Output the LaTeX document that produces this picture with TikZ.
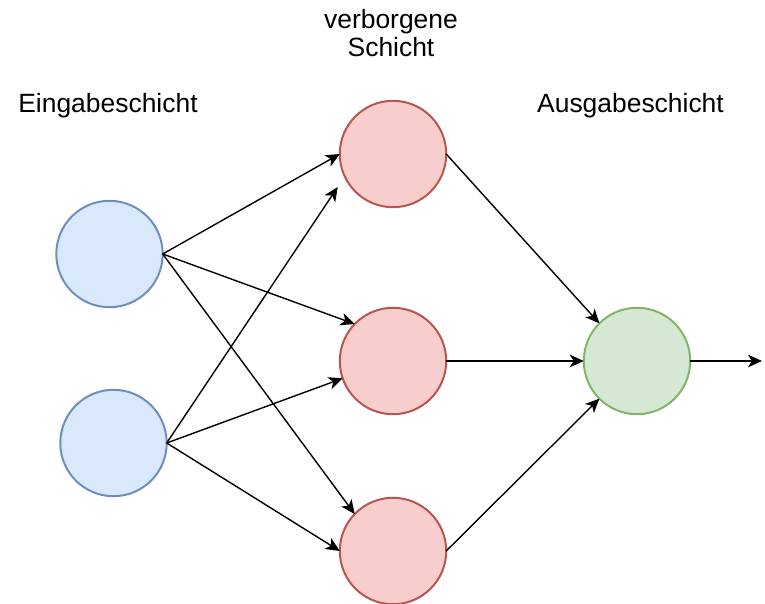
\documentclass[tikz,border=0pt]{standalone}
\usepackage{fontspec}
\setmainfont{Liberation Sans}
\usetikzlibrary{arrows.meta}
\definecolor{inputblue}{HTML}{DAE8FC}
\definecolor{inputborder}{HTML}{6C8EBF}
\definecolor{hiddenred}{HTML}{F8CECC}
\definecolor{hiddenborder}{HTML}{B85450}
\definecolor{outputgreen}{HTML}{D5E8D4}
\definecolor{outputborder}{HTML}{82B366}

\begin{document}
\begin{tikzpicture}[x=0.025cm, y=-0.025cm,
    neuron/.style={circle, draw, line width=1.4pt, minimum size=2.66cm, inner sep=0pt, outer sep=0pt},
    layerlabel/.style={font=\fontsize{18.8}{20.6}\selectfont, align=center, inner sep=0pt},
    conn/.style={-{Stealth[length=10pt, width=9pt, inset=2.8pt]}, line width=1pt}
]
\useasboundingbox (0,0) rectangle (765,604);

\node[neuron, fill=inputblue, draw=inputborder] (in1) at (109.5,254) {};
\node[neuron, fill=inputblue, draw=inputborder] (in2) at (113.5,443) {};

\node[neuron, fill=hiddenred, draw=hiddenborder] (hid1) at (393,154) {};
\node[neuron, fill=hiddenred, draw=hiddenborder] (hid2) at (393,361) {};
\node[neuron, fill=hiddenred, draw=hiddenborder] (hid3) at (393,551) {};

\node[neuron, fill=outputgreen, draw=outputborder] (out) at (637,361) {};
\coordinate (outend) at (762,361);

\node[layerlabel, anchor=base] (lin) at (108,113) {Eingabeschicht};
\node[layerlabel, anchor=base] (lhid) at (391,57) {verborgene\\Schicht};
\node[layerlabel, anchor=base] (lout) at (630.5,113) {Ausgabeschicht};

\draw[conn] (in1.east) -- (hid1.west);
\draw[conn] (in1.east) -- (hid2.136);
\draw[conn] (in1.east) -- (hid3.136);
\draw[conn, shorten >=9pt] (in2.east) -- (hid1.205);
\draw[conn] (in2.east) -- (hid2.199);
\draw[conn] (in2.east) -- (hid3.west);

\draw[conn] (hid1.east) -- (out.135);
\draw[conn] (hid2.east) -- (out.west);
\draw[conn] (hid3.east) -- (out.225);
\draw[conn] (out.east) -- (outend);

\end{tikzpicture}
\end{document}
